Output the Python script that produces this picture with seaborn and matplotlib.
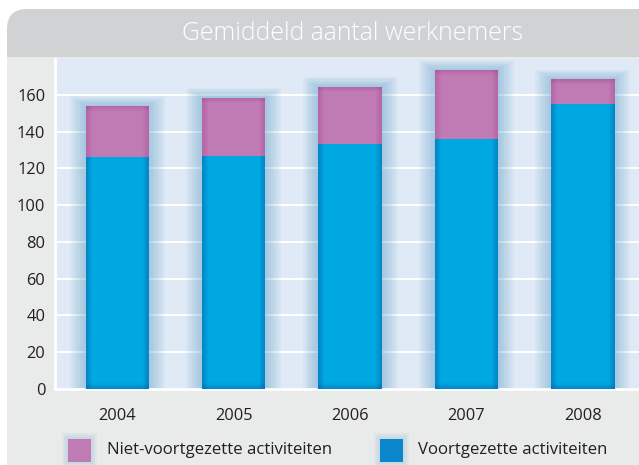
import numpy as np
import pandas as pd
import matplotlib
matplotlib.use("Agg")
import matplotlib.pyplot as plt
import seaborn as sns
from matplotlib.patches import FancyBboxPatch, Rectangle

years = ["2004", "2005", "2006", "2007", "2008"]
voortgezet = [126, 127, 133, 136, 155]
totaal = [154, 158.5, 164.5, 173.5, 168.5]
yticks = [0, 20, 40, 60, 80, 100, 120, 140, 160]
title = "Gemiddeld aantal werknemers"
lbl_niet = "Niet-voortgezette activiteiten"
lbl_voort = "Voortgezette activiteiten"

PINK = "#c07ab4"
BLUE = "#00a8e2"
GLOW = "#4f97c4"

sns.set_theme(style="white")
plt.rcParams["font.family"] = ["Open Sans", "DejaVu Sans"]

W, H = 639, 465
fig = plt.figure(figsize=(W / 100, H / 100), dpi=100, facecolor="white")

def px(x0, y0, x1, y1):
    # image pixel box -> figure fraction (left, bottom, width, height)
    return (x0 / W, 1 - y1 / H, (x1 - x0) / W, (y1 - y0) / H)

def add_rect(x0, y0, x1, y1, color, z, alpha=1.0):
    l, b, w, h = px(x0, y0, x1, y1)
    fig.patches.append(Rectangle((l, b), w, h, transform=fig.transFigure,
                                 facecolor=color, edgecolor="none", zorder=z,
                                 alpha=alpha))

# outer gray background
add_rect(7, 30, W + 5, H + 5, "#e9eaea", -3)
# header with rounded top-left corner (pixel transform)
r = 20
fig.patches.append(FancyBboxPatch((7 + r, H - 57 + r), W, 48 - 2 * r,
                                  boxstyle=f"round,pad={r}", transform=None,
                                  facecolor="#d1d2d4", edgecolor="none", zorder=-2))
add_rect(7, 35, W + 5, 57, "#d1d2d4", -2)
fig.text(352 / W, 1 - 33 / H, title, ha="center", va="center", color="white",
         fontsize=17.8, fontweight="light", zorder=3)

# axes
ax = fig.add_axes(px(55, 59, W + 2, 389))
ax.set_zorder(1)
ax.set_facecolor("#dfeaf6")

df = pd.DataFrame({"jaar": years, "totaal": totaal, "voortgezet": voortgezet})

XPX = (4.45 + 0.536) / (W + 2 - 55)   # data units per pixel (x)
YPX = 179.5 / (389 - 59)               # data units per pixel (y)
bar_w = 0.545

# glow behind bars
for g in range(16, 0, -2):
    df["glow"] = [t + g * YPX * 0.6 for t in totaal]
    sns.barplot(data=df, x="jaar", y="glow", color=GLOW,
                width=bar_w + 2 * g * XPX, alpha=0.055, ax=ax, saturation=1,
                zorder=2, linewidth=0)

sns.barplot(data=df, x="jaar", y="totaal", color=PINK, width=bar_w,
            ax=ax, saturation=1, zorder=3, linewidth=0)
sns.barplot(data=df, x="jaar", y="voortgezet", color=BLUE, width=bar_w,
            ax=ax, saturation=1, zorder=4, linewidth=0)

# soft darker edges on bars (side gradients and darker bottom / top)
for i, (t, v) in enumerate(zip(totaal, voortgezet)):
    for k in range(1, 7):
        wk = k * XPX
        for xc in (i - bar_w / 2 + wk / 2, i + bar_w / 2 - wk / 2):
            ax.bar(xc, v, width=wk, color="#0060a8", alpha=0.09,
                   linewidth=0, zorder=5)
            ax.bar(xc, t - v, bottom=v, width=wk, color="#a03f8e", alpha=0.06,
                   linewidth=0, zorder=5)
        ax.bar(i, k * YPX, width=bar_w, color="#0060a8", alpha=0.07,
               linewidth=0, zorder=5)
        ax.bar(i, k * YPX * 0.8, bottom=t - k * YPX * 0.8, width=bar_w,
               color="#a03f8e", alpha=0.06, linewidth=0, zorder=5)

ax.set_xlim(-0.536, 4.45)
ax.set_ylim(0, 179.5)
ax.set_yticks(yticks)
ax.set_yticklabels([str(v) for v in yticks])
for yv in yticks[1:]:
    ax.axhline(yv, color="white", lw=1.5, zorder=1)
ax.set_xlabel("")
ax.set_ylabel("")
ax.tick_params(axis="y", length=0, pad=7, labelsize=11.8, labelcolor="#231f20")
ax.tick_params(axis="x", length=0, pad=14, labelsize=11.8, labelcolor="#231f20")
ax.set_xticks(np.arange(-0.5, 5, 1.0), minor=True)
ax.tick_params(axis="x", which="minor", length=8, width=1.5, color="white",
               direction="out")
for s in ["top", "right"]:
    ax.spines[s].set_visible(False)
for s in ["left", "bottom"]:
    ax.spines[s].set_color("white")
    ax.spines[s].set_linewidth(2)

# legend drawn manually
for (x0, x1, col, lab, tx) in [(68, 91, PINK, lbl_niet, 107),
                               (380, 403, "#0a86cc", lbl_voort, 418)]:
    for g in (6, 4, 2):
        add_rect(x0 - g, 439 - g, x1 + g, 462 + g, GLOW, 2, alpha=0.07)
    add_rect(x0, 439, x1, 462, col, 3)
    fig.text(tx / W, 1 - 450 / H, lab, ha="left", va="center", fontsize=12.1,
             color="#231f20", zorder=4)

fig.savefig("out.png", dpi=100, facecolor="white")
